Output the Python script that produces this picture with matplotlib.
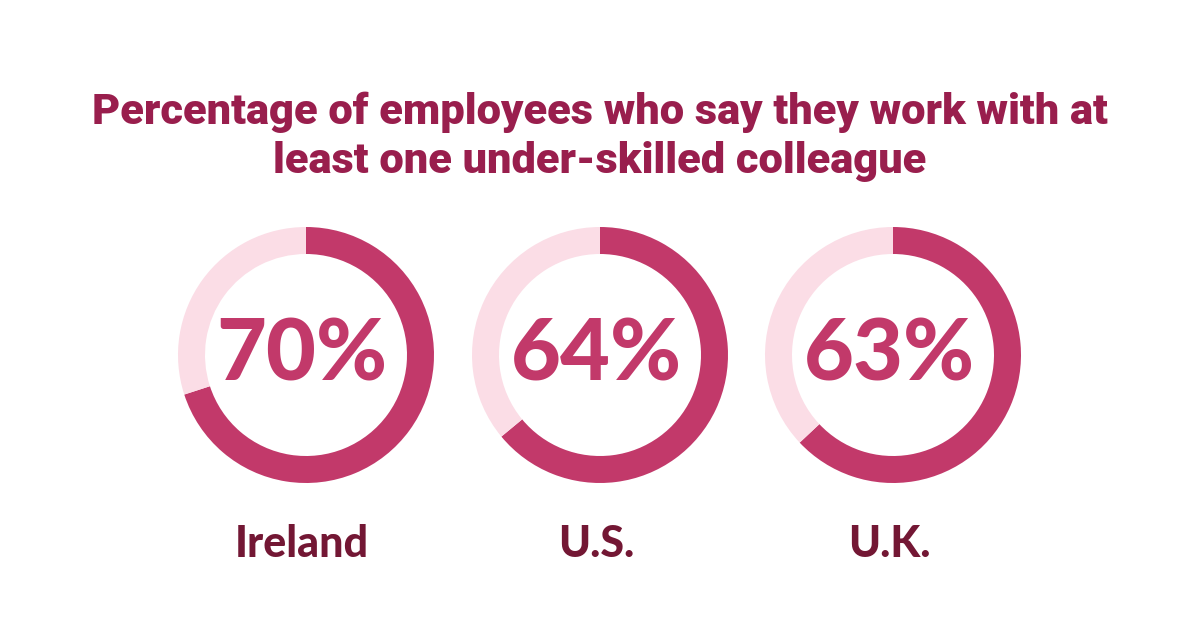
import matplotlib
matplotlib.use("Agg")
import matplotlib.pyplot as plt

# ── Datos ─────────────────────────────────────────────────────────────────────
paises = ["Ireland", "U.S.", "U.K."]
valores = [70, 64, 63]

# ── Paleta ────────────────────────────────────────────────────────────────────
ROSA_FUERTE = "#C2396A"
ROSA_CLARO = "#FBDDE6"
VINO_TITULO = "#991E4D"
VINO_ETIQ = "#731734"

fig = plt.figure(figsize=(12, 6.3), dpi=100)
ax = fig.add_axes([0, 0, 1, 1])
ax.axis("off")

centros_x = [306, 600, 893]
cy = 630 - 355

for x, pais, v in zip(centros_x, paises, valores):
    ax.pie([v, 100 - v], colors=[ROSA_FUERTE, ROSA_CLARO], startangle=90,
           counterclock=False, radius=128, center=(x, cy),
           wedgeprops=dict(width=27, linewidth=0))
    ax.text(x - 4, cy - 1, f"{v}%", ha="center", va="center",
            fontsize=62, fontweight="black", family="Lato", color=ROSA_FUERTE)
    ax.text(x - 4, 630 - 544, pais, ha="center", va="center",
            fontsize=31, fontweight="black", family="Lato", color=VINO_ETIQ)

ax.set_xlim(0, 1200)
ax.set_ylim(0, 630)
ax.set_aspect("equal")

fig.text(0.5, 1 - 112 / 630, "Percentage of employees who say they work with at",
         ha="center", va="center", fontsize=31.2, fontweight="heavy",
         family="Roboto", color=VINO_TITULO)
fig.text(0.5, 1 - 161 / 630, "least one under-skilled colleague",
         ha="center", va="center", fontsize=31.2, fontweight="heavy",
         family="Roboto", color=VINO_TITULO)

fig.savefig("out.png", dpi=100, facecolor="white")
